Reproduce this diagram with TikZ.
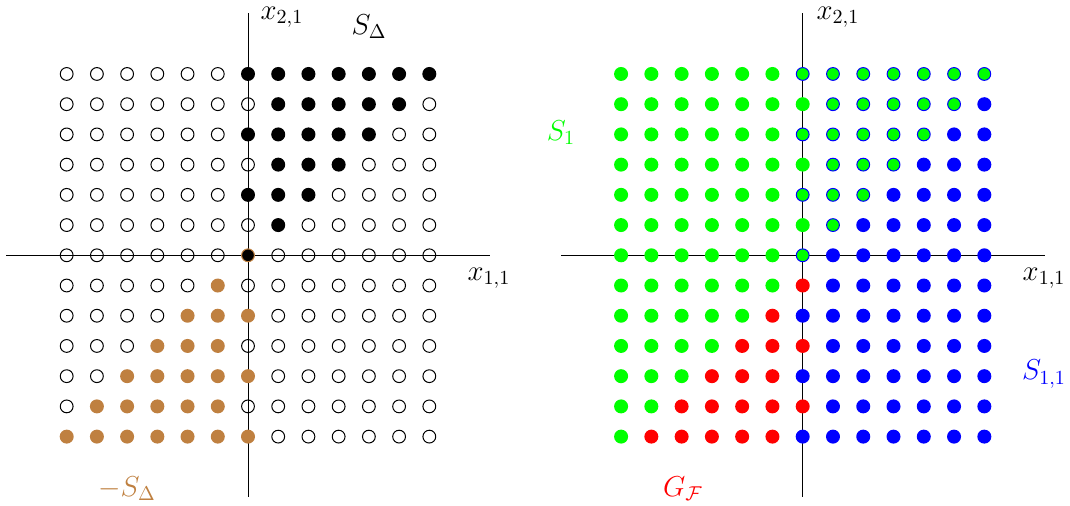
\documentclass[tikz,border=0pt]{standalone}
\begin{document}
\begin{tikzpicture}[x=0.5pt,y=-0.5pt,
  axis/.style={line width=0.5pt,black},
  openpt/.style={circle,draw=black,line width=0.5pt,inner sep=0pt,minimum size=6.4pt},
  solidpt/.style={circle,inner sep=0pt,minimum size=7pt},
  blackpt/.style={solidpt,fill=black},
  brownpt/.style={solidpt,fill=brown},
  originpt/.style={circle,inner sep=0pt,minimum size=6.4pt,line width=0.5pt,fill=black,draw=brown},
  greenpt/.style={solidpt,fill=green},
  bluept/.style={solidpt,fill=blue},
  redpt/.style={solidpt,fill=red},
  bothpt/.style={circle,inner sep=0pt,minimum size=6.4pt,line width=0.5pt,fill=green,draw=blue},
  lab/.style={font=\Large,inner sep=0pt}]
\useasboundingbox (0,0) rectangle (1070,506);

% axes, left panel
\coordinate (LxW) at (6,255.3);
\coordinate (LxE) at (490,255.3);
\coordinate (LyS) at (248,497);
\coordinate (LyN) at (248,13);
\draw[axis] (LxW) -- (LxE);
\draw[axis] (LyS) -- (LyN);
% axes, right panel
\coordinate (RxW) at (561,255.3);
\coordinate (RxE) at (1045,255.3);
\coordinate (RyS) at (802.7,497);
\coordinate (RyN) at (802.7,13);
\draw[axis] (RxW) -- (RxE);
\draw[axis] (RyS) -- (RyN);

\foreach \i in {-6,...,6}{
  \foreach \j in {-6,...,6}{
    \pgfmathtruncatemacro{\blk}{((\i>=1)&&(\i<=\j)) || ((\i==0)&&(\j>=0)&&(mod(abs(\j),2)==0))}
    \pgfmathtruncatemacro{\brn}{((\i<=-1)&&(\i>=\j)) || ((\i==0)&&(\j<0)&&(mod(abs(\j),2)==0))}
    \pgfmathtruncatemacro{\grn}{((\i<0)&&(\j>=0)) || ((\i==0)&&(\j>0)&&(mod(abs(\j),2)==1)) || ((\j<0)&&(\i<=\j))}
    \pgfmathtruncatemacro{\rd}{((\j<0)&&(\i>\j)&&(\i<=-1)) || ((\i==0)&&(\j<0)&&(mod(abs(\j),2)==1))}
    \pgfmathsetmacro{\xl}{248+30.22*\i}
    \pgfmathsetmacro{\xr}{802.7+30.27*\i}
    \pgfmathsetmacro{\yy}{255.3-30.22*\j}
    % left panel
    \ifnum\i=0 \ifnum\j=0
      \node[originpt] (L\i_\j) at (\xl,\yy) {};
    \else
      \ifnum\blk=1 \node[blackpt] (L\i_\j) at (\xl,\yy) {};
      \else\ifnum\brn=1 \node[brownpt] (L\i_\j) at (\xl,\yy) {};
      \else \node[openpt] (L\i_\j) at (\xl,\yy) {};
      \fi\fi
    \fi
    \else
      \ifnum\blk=1 \node[blackpt] (L\i_\j) at (\xl,\yy) {};
      \else\ifnum\brn=1 \node[brownpt] (L\i_\j) at (\xl,\yy) {};
      \else \node[openpt] (L\i_\j) at (\xl,\yy) {};
      \fi\fi
    \fi
    % right panel
    \ifnum\blk=1 \node[bothpt] (R\i_\j) at (\xr,\yy) {};
    \else\ifnum\grn=1 \node[greenpt] (R\i_\j) at (\xr,\yy) {};
    \else\ifnum\rd=1 \node[redpt] (R\i_\j) at (\xr,\yy) {};
    \else \node[bluept] (R\i_\j) at (\xr,\yy) {};
    \fi\fi\fi
  }
}

% labels, left panel
\node[lab] (Lx2) at (282,17) {$x_{2,1}$};
\node[lab] (LSD) at (369,27) {$S_\Delta$};
\node[lab] (Lx1) at (489,278) {$x_{1,1}$};
\node[lab,text=brown] (LmSD) at (127,489) {$-S_\Delta$};
% labels, right panel
\node[lab] (Rx2) at (838,17) {$x_{2,1}$};
\node[lab,text=green] (RS1) at (561,133) {$S_1$};
\node[lab] (Rx1) at (1044,278) {$x_{1,1}$};
\node[lab,text=blue] (RS11) at (1044,374) {$S_{1,1}$};
\node[lab,text=red] (RGF) at (683,489) {$G_{\mathcal F}$};
\end{tikzpicture}
\end{document}
